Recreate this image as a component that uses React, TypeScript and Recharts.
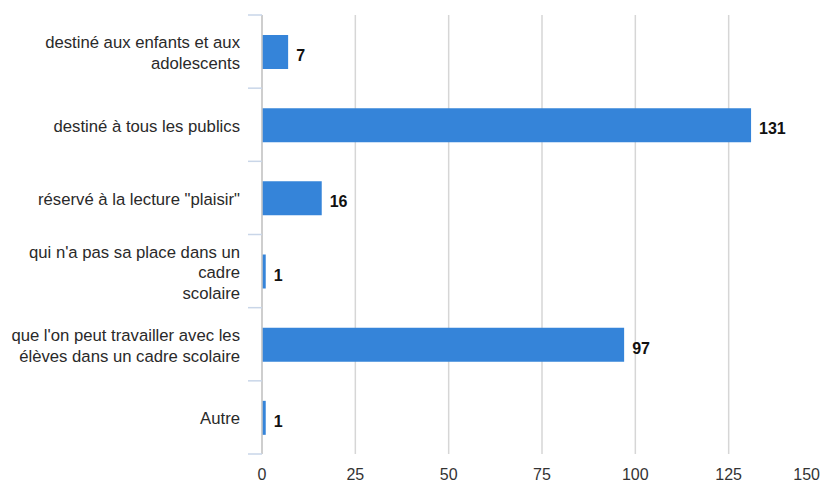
import { BarChart, Bar, XAxis, YAxis, CartesianGrid, LabelList } from "recharts";

const categories = [
  "destiné aux enfants et aux\nadolescents",
  "destiné à tous les publics",
  "réservé à la lecture \"plaisir\"",
  "qui n'a pas sa place dans un\ncadre\nscolaire",
  "que l'on peut travailler avec les\nélèves dans un cadre scolaire",
  "Autre",
];
const counts = [7, 131, 16, 1, 97, 1];
const xTicks = [0, 25, 50, 75, 100, 125, 150];

const data = categories.map((name, i) => ({ name, value: counts[i] }));

const FONT = "'Liberation Sans', Arial, sans-serif";
const TOP = 15;
const BOTTOM = 454;
const LEFT = 262;
const BAND = (BOTTOM - TOP) / categories.length;

function CategoryTick(props: any) {
  const { y, payload, index } = props;
  const lines = String(payload.value).split("\n");
  const n = lines.length;
  return (
    <g>
      <line x1={248} x2={LEFT} y1={y - BAND / 2} y2={y - BAND / 2} stroke="#c9d6e8" strokeWidth={1.5} />
      {index === categories.length - 1 && (
        <line x1={248} x2={LEFT} y1={y + BAND / 2} y2={y + BAND / 2} stroke="#c9d6e8" strokeWidth={1.5} />
      )}
      <text textAnchor="end" fontFamily={FONT} fontSize={16.7} fill="#2a2a2a">
        {lines.map((l, i) => (
          <tspan key={i} x={240} y={y + 7 + (i - (n - 1) / 2) * 20.5}>
            {l}
          </tspan>
        ))}
      </text>
    </g>
  );
}

function ValueTick(props: any) {
  const { x, payload } = props;
  const last = payload.value === xTicks[xTicks.length - 1];
  return (
    <text
      x={last ? 820 : x}
      y={480}
      textAnchor={last ? "end" : "middle"}
      fontFamily={FONT}
      fontSize={16}
      fill="#333"
    >
      {payload.value}
    </text>
  );
}

function BarValue(props: any) {
  const { x, y, width, height, value } = props;
  return (
    <text
      x={x + width + 8}
      y={y + height / 2 + 9}
      fontFamily={FONT}
      fontSize={16}
      fontWeight="bold"
      fill="#111"
    >
      {value}
    </text>
  );
}

export default function App() {
  return (
    <div style={{ position: "fixed", left: 0, top: 0, width: 820, height: 483, overflow: "hidden", background: "#fff" }}>
      <BarChart
        width={830}
        height={483}
        data={data}
        layout="vertical"
        margin={{ top: TOP, right: 8, bottom: 0, left: 0 }}
        barSize={34}
      >
        <CartesianGrid horizontal={false} stroke="#d6d6d6" strokeWidth={1.5} />
        <XAxis
          type="number"
          domain={[0, 150]}
          ticks={xTicks}
          axisLine={false}
          tickLine={false}
          height={29}
          tick={<ValueTick />}
          interval={0}
        />
        <YAxis
          type="category"
          dataKey="name"
          width={LEFT}
          axisLine={{ stroke: "#c8c8c8", strokeWidth: 1.5 }}
          tickLine={false}
          tick={<CategoryTick />}
          interval={0}
        />
        <Bar dataKey="value" fill="#3584d9" isAnimationActive={false}>
          <LabelList dataKey="value" content={<BarValue />} />
        </Bar>
      </BarChart>
    </div>
  );
}
